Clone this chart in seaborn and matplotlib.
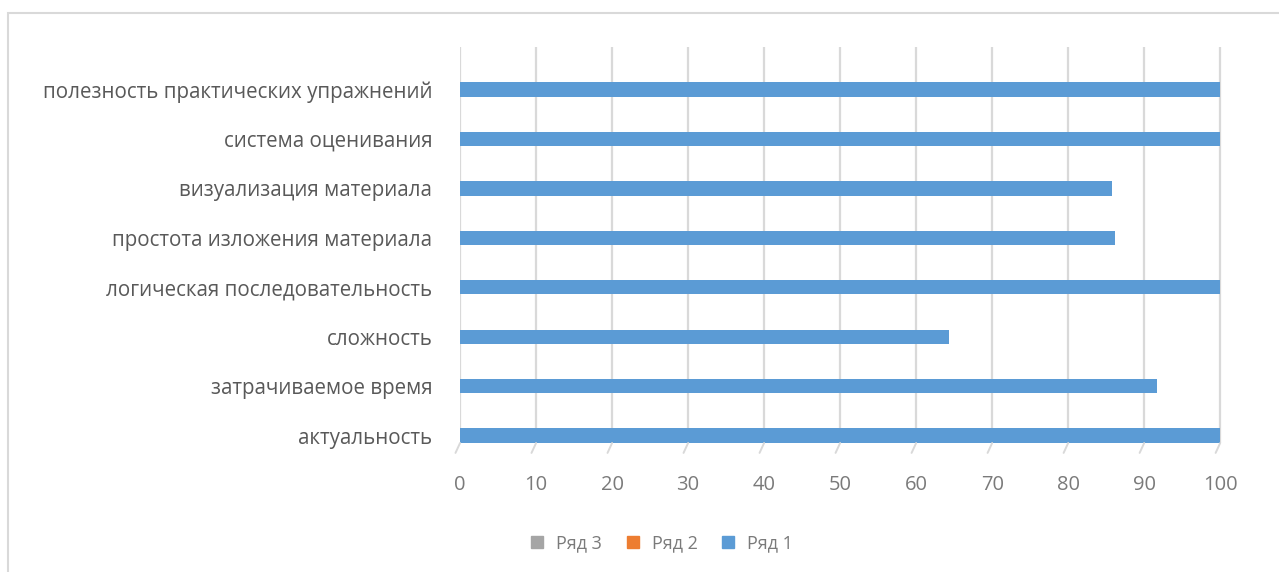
import numpy as np
import pandas as pd
import matplotlib
matplotlib.use("Agg")
import matplotlib.pyplot as plt
import seaborn as sns
from matplotlib.patches import Rectangle

sns.set_theme(style="white")
plt.rcParams['font.family'] = ['Open Sans', 'DejaVu Sans']

# Данные диаграммы
categories = [
    "полезность практических упражнений",
    "система оценивания",
    "визуализация материала",
    "простота изложения материала",
    "логическая последовательность",
    "сложность",
    "затрачиваемое время",
    "актуальность",
]
series_1 = [100, 100, 85.7, 86.1, 100, 64.3, 91.7, 100]
series_2 = [0, 0, 0, 0, 0, 0, 0, 0]
series_3 = [0, 0, 0, 0, 0, 0, 0, 0]
series_names = ["Ряд 1", "Ряд 2", "Ряд 3"]
x_ticks = [0, 10, 20, 30, 40, 50, 60, 70, 80, 90, 100]

df = pd.DataFrame({
    "category": categories * 3,
    "value": series_1 + series_2 + series_3,
    "series": [series_names[0]] * 8 + [series_names[1]] * 8 + [series_names[2]] * 8,
})

palette = {"Ряд 1": "#5B9BD5", "Ряд 2": "#ED7D31", "Ряд 3": "#A5A5A5"}
text_color = "#7a7a7a"

fig = plt.figure(figsize=(12.79, 5.72), dpi=100)
ax = fig.add_axes([0.3597, 0.2255, 0.957 - 0.3597, 0.918 - 0.2255])

sns.barplot(data=df, y="category", x="value", hue="series", order=categories,
            hue_order=series_names, palette=palette, dodge=False, saturation=1,
            width=0.29, linewidth=0, ax=ax, legend=False)

ax.set_xlim(0, 100.5)
ax.set_ylim(7.15, -0.86)
ax.set_xticks(x_ticks)
ax.xaxis.grid(True, color="#d9d9d9", linewidth=1.6)
ax.set_axisbelow(True)
for s in ax.spines.values():
    s.set_visible(False)
ax.set_xlabel("")
ax.set_ylabel("")
ax.tick_params(axis="y", length=0, pad=20, labelsize=14.8, labelcolor="#595959")
ax.tick_params(axis="x", length=0, pad=23, labelsize=14.5, labelcolor=text_color)

# косые отметки "пола" трёхмерной диаграммы
for xt in x_ticks:
    ax.plot([xt, xt - 0.6], [7.15, 7.35], color="#d9d9d9", linewidth=1.4,
            clip_on=False)

# легенда
handles = [plt.Line2D([], [], marker="s", linestyle="", markersize=8,
                      color=palette[n]) for n in series_names[::-1]]
fig.legend(handles, series_names[::-1], loc="center", bbox_to_anchor=(0.513, 0.051),
           ncol=3, frameon=False, fontsize=13, handletextpad=0.05,
           columnspacing=0.7, labelcolor=text_color)

# рамка области диаграммы
fig.patches.append(Rectangle((0.0063, -0.05), 1.1, 0.977 + 0.05, transform=fig.transFigure,
                             fill=False, edgecolor="#d9d9d9", linewidth=1.5))

fig.savefig("out.png", dpi=100)
